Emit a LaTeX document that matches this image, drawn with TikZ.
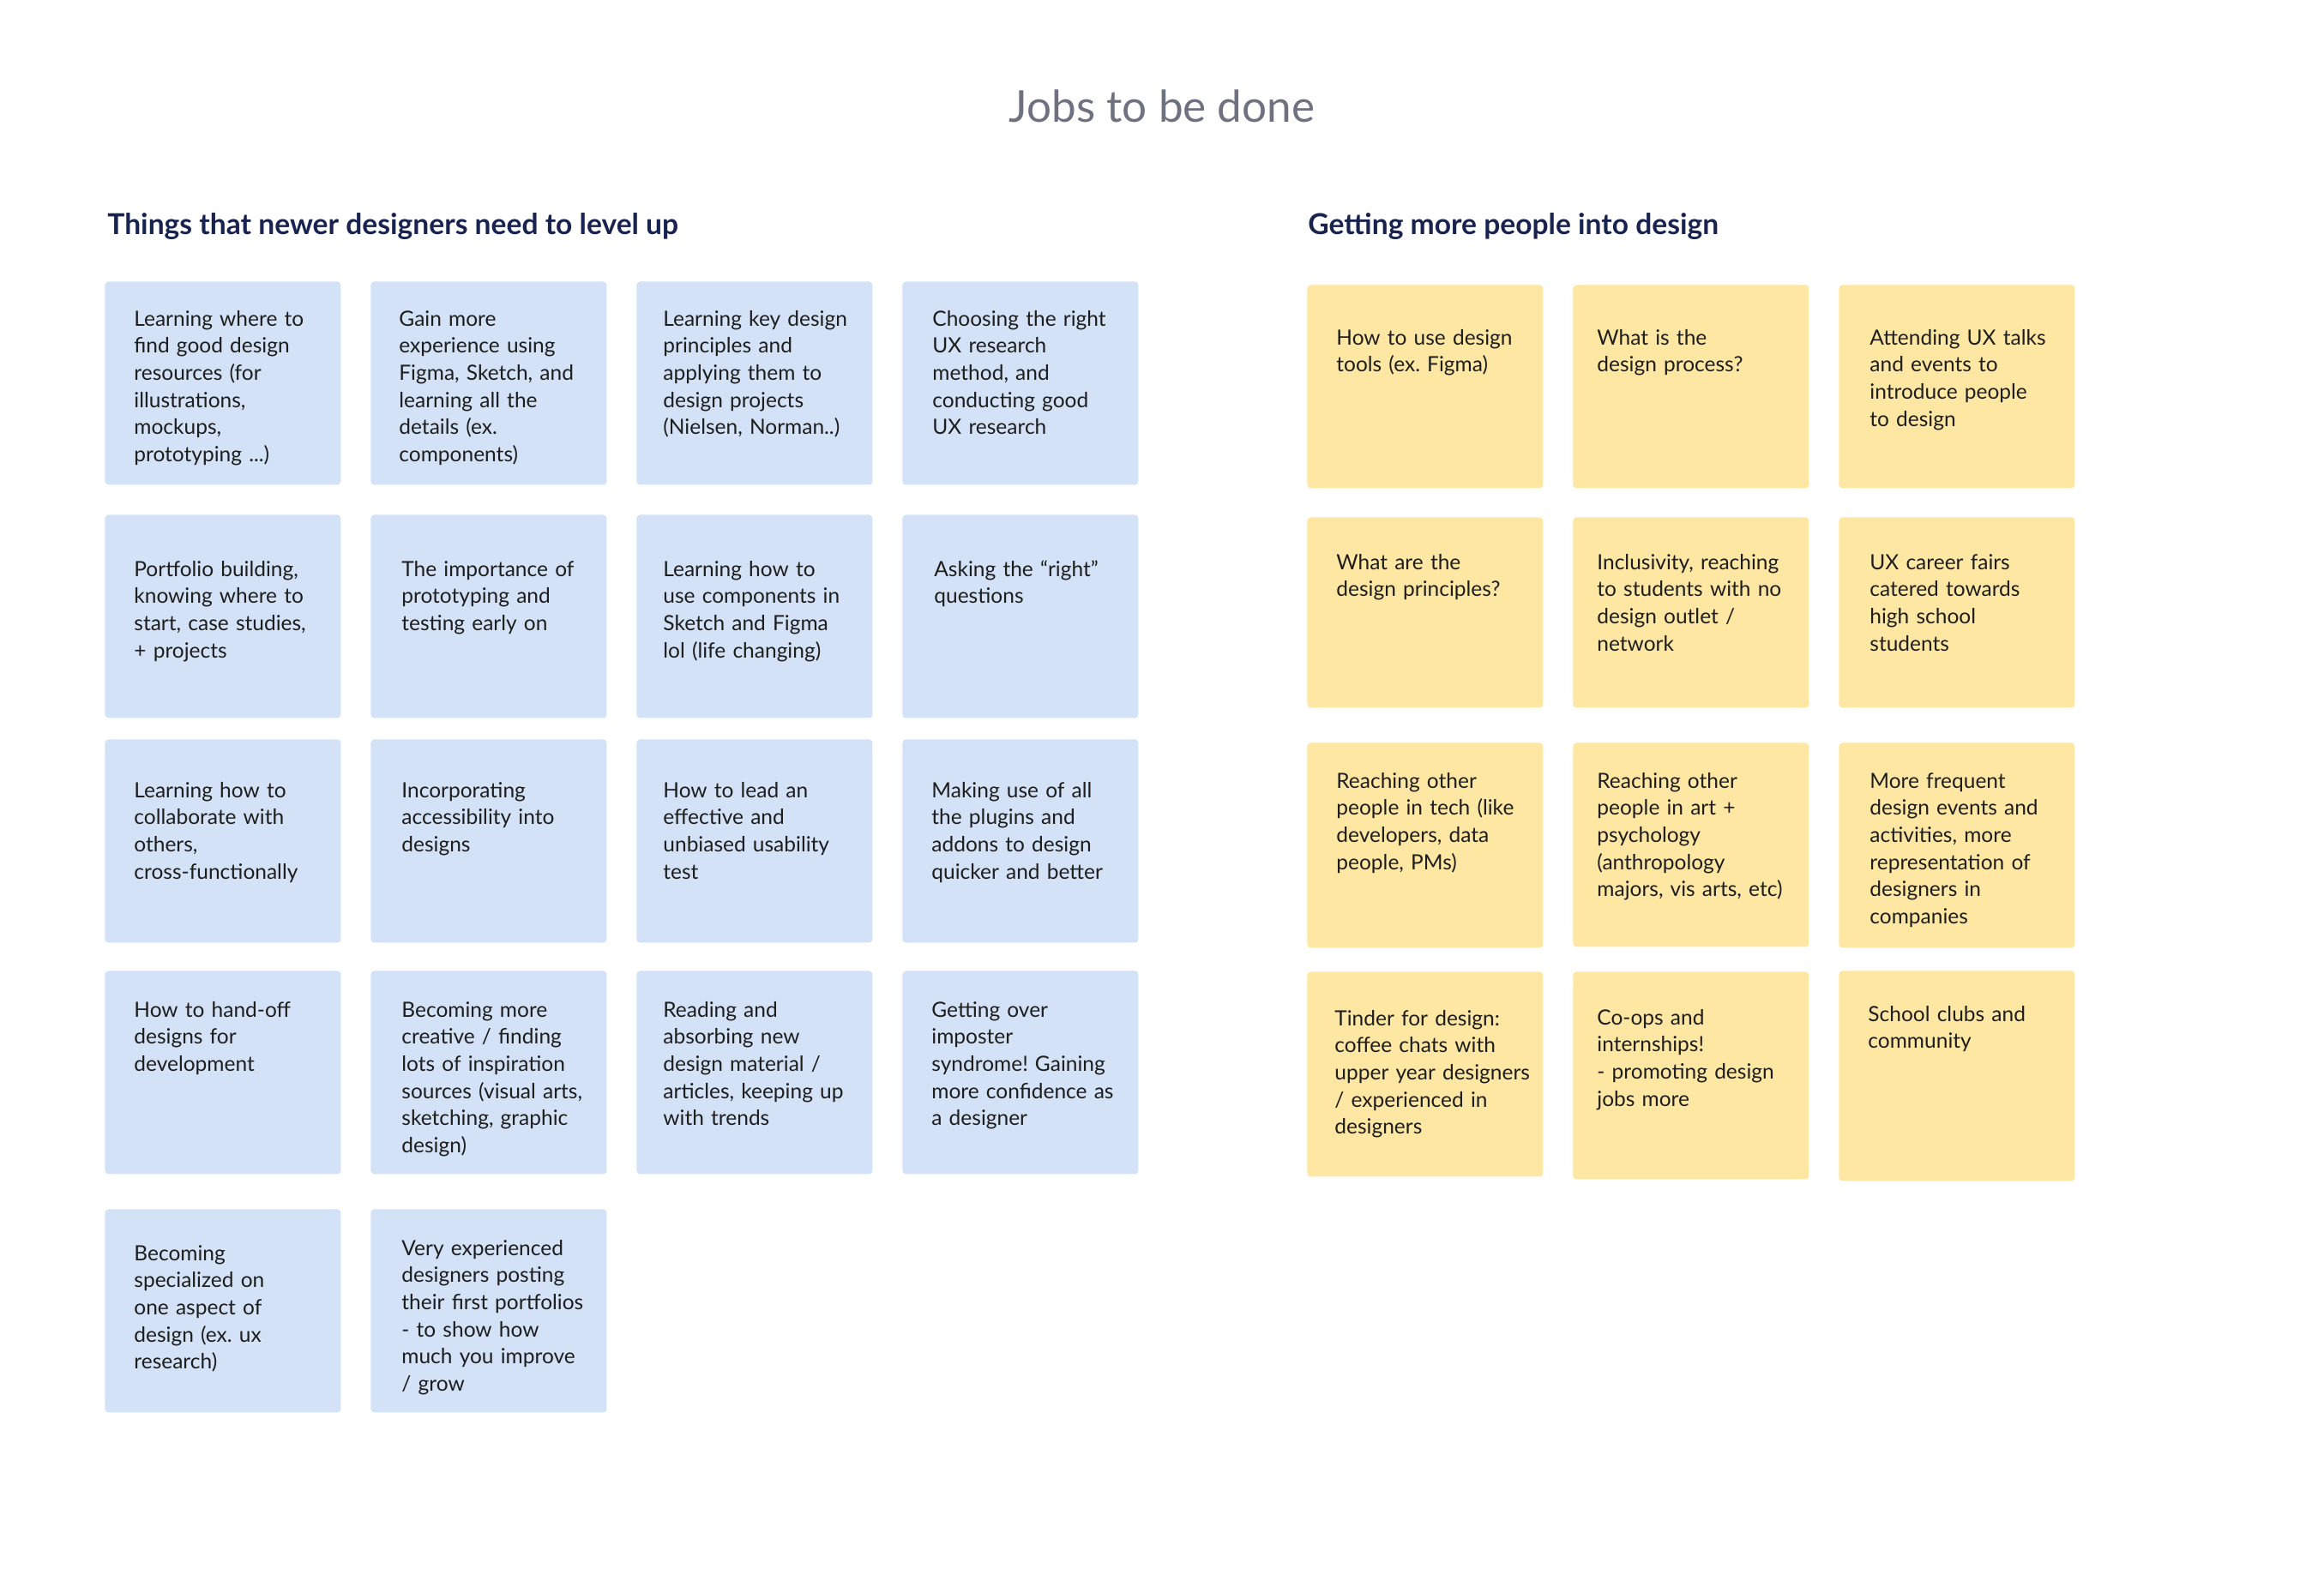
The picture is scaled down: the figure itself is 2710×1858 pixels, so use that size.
\documentclass[tikz,border=0pt]{standalone}
\usepackage{fontspec}
\setmainfont{Lato}
\usetikzlibrary{positioning}
\definecolor{cardblue}{RGB}{211,226,246}
\definecolor{cardyellow}{RGB}{254,231,163}
\definecolor{headink}{RGB}{25,35,80}
\definecolor{titleink}{RGB}{110,113,128}
\definecolor{cardink}{RGB}{30,30,30}
\frenchspacing
\tikzset{
	card/.style={rectangle, rounded corners=2pt, anchor=north west, inner sep=0pt, minimum width=137.5pt, minimum height=118.5pt},
	bluecard/.style={card, fill=cardblue},
	yellowcard/.style={card, fill=cardyellow},
	cardtext/.style={anchor=base west, align=left, text width=130pt, inner sep=0pt, text=cardink, font=\fontsize{12.25pt}{15.85pt}\selectfont},
	heading/.style={anchor=base west, inner sep=0pt, text=headink, font=\fontsize{16.8pt}{20pt}\selectfont\bfseries},
	maintitle/.style={anchor=base, inner sep=0pt, text=titleink, font=\fontsize{25.6pt}{30pt}\selectfont}
}
\begin{document}
\begin{tikzpicture}[x=0.5pt, y=-0.5pt]
	\useasboundingbox (0,0) rectangle (2710,1858);
	\node[maintitle] (title) at (1355,142) {Jobs to be done};
	\node[heading] (levelup) at (125,273) {Things that newer designers need to level up};
	\node[heading] (moredesign) at (1525,273) {Getting more people into design};

	\node[bluecard] (l11) at (122,328) {};
	\node[bluecard] (l12) at (432,328) {};
	\node[bluecard] (l13) at (742,328) {};
	\node[bluecard] (l14) at (1052,328) {};
	\node[bluecard] (l21) at (122,600) {};
	\node[bluecard] (l22) at (432,600) {};
	\node[bluecard] (l23) at (742,600) {};
	\node[bluecard] (l24) at (1052,600) {};
	\node[bluecard] (l31) at (122,862) {};
	\node[bluecard] (l32) at (432,862) {};
	\node[bluecard] (l33) at (742,862) {};
	\node[bluecard] (l34) at (1052,862) {};
	\node[bluecard] (l41) at (122,1132) {};
	\node[bluecard] (l42) at (432,1132) {};
	\node[bluecard] (l43) at (742,1132) {};
	\node[bluecard] (l44) at (1052,1132) {};
	\node[bluecard] (l51) at (122,1410) {};
	\node[bluecard] (l52) at (432,1410) {};

	\node[cardtext] (l11t) at ([shift={(34,52)}]l11.north west) {Learning where to\\find good design\\resources (for\\illustrations,\\mockups,\\prototyping ...)};
	\node[cardtext] (l12t) at ([shift={(33,52)}]l12.north west) {Gain more\\experience using\\Figma, Sketch, and\\learning all the\\details (ex.\\components)};
	\node[cardtext] (l13t) at ([shift={(31,52)}]l13.north west) {Learning key design\\principles and\\applying them to\\design projects\\(Nielsen, Norman..)};
	\node[cardtext] (l14t) at ([shift={(35,52)}]l14.north west) {Choosing the right\\UX research\\method, and\\conducting good\\UX research};
	\node[cardtext] (l21t) at ([shift={(34,72)}]l21.north west) {Portfolio building,\\knowing where to\\start, case studies,\\+ projects};
	\node[cardtext] (l22t) at ([shift={(36,72)}]l22.north west) {The importance of\\prototyping and\\testing early on};
	\node[cardtext] (l23t) at ([shift={(31,72)}]l23.north west) {Learning how to\\use components in\\Sketch and Figma\\lol (life changing)};
	\node[cardtext] (l24t) at ([shift={(37,72)}]l24.north west) {Asking the “right”\\questions};
	\node[cardtext] (l31t) at ([shift={(34,68)}]l31.north west) {Learning how to\\collaborate with\\others,\\cross-functionally};
	\node[cardtext] (l32t) at ([shift={(36,68)}]l32.north west) {Incorporating\\accessibility into\\designs};
	\node[cardtext] (l33t) at ([shift={(31,68)}]l33.north west) {How to lead an\\effective and\\unbiased usability\\test};
	\node[cardtext] (l34t) at ([shift={(34,68)}]l34.north west) {Making use of all\\the plugins and\\addons to design\\quicker and better};
	\node[cardtext] (l41t) at ([shift={(34,54)}]l41.north west) {How to hand-off\\designs for\\development};
	\node[cardtext] (l42t) at ([shift={(36,54)}]l42.north west) {Becoming more\\creative / finding\\lots of inspiration\\sources (visual arts,\\sketching, graphic\\design)};
	\node[cardtext] (l43t) at ([shift={(31,54)}]l43.north west) {Reading and\\absorbing new\\design material /\\articles, keeping up\\with trends};
	\node[cardtext] (l44t) at ([shift={(34,54)}]l44.north west) {Getting over\\imposter\\syndrome! Gaining\\more confidence as\\a designer};
	\node[cardtext] (l51t) at ([shift={(34,60)}]l51.north west) {Becoming\\specialized on\\one aspect of\\design (ex. ux\\research)};
	\node[cardtext] (l52t) at ([shift={(36,54)}]l52.north west) {Very experienced\\designers posting\\their first portfolios\\- to show how\\much you improve\\/ grow};

	\node[yellowcard] (r11) at (1524,332) {};
	\node[yellowcard] (r12) at (1834,332) {};
	\node[yellowcard] (r13) at (2144,332) {};
	\node[yellowcard, minimum height=111pt] (r21) at (1524,603) {};
	\node[yellowcard, minimum height=111pt] (r22) at (1834,603) {};
	\node[yellowcard, minimum height=111pt] (r23) at (2144,603) {};
	\node[yellowcard, minimum height=119.5pt] (r31) at (1524,866) {};
	\node[yellowcard, minimum height=119pt] (r32) at (1834,866) {};
	\node[yellowcard, minimum height=119.5pt] (r33) at (2144,866) {};
	\node[yellowcard, minimum height=119.5pt] (r41) at (1524,1133) {};
	\node[yellowcard, minimum height=121pt] (r42) at (1834,1133) {};
	\node[yellowcard, minimum height=122.5pt] (r43) at (2144,1132) {};

	\node[cardtext] (r11t) at ([shift={(34,70)}]r11.north west) {How to use design\\tools (ex. Figma)};
	\node[cardtext] (r12t) at ([shift={(28,70)}]r12.north west) {What is the\\design process?};
	\node[cardtext] (r13t) at ([shift={(36,70)}]r13.north west) {Attending UX talks\\and events to\\introduce people\\to design};
	\node[cardtext] (r21t) at ([shift={(34,61)}]r21.north west) {What are the\\design principles?};
	\node[cardtext] (r22t) at ([shift={(28,61)}]r22.north west) {Inclusivity, reaching\\to students with no\\design outlet /\\network};
	\node[cardtext] (r23t) at ([shift={(36,61)}]r23.north west) {UX career fairs\\catered towards\\high school\\students};
	\node[cardtext] (r31t) at ([shift={(34,53)}]r31.north west) {Reaching other\\people in tech (like\\developers, data\\people, PMs)};
	\node[cardtext] (r32t) at ([shift={(28,53)}]r32.north west) {Reaching other\\people in art +\\psychology\\(anthropology\\majors, vis arts, etc)};
	\node[cardtext] (r33t) at ([shift={(36,53)}]r33.north west) {More frequent\\design events and\\activities, more\\representation of\\designers in\\companies};
	\node[cardtext] (r41t) at ([shift={(32,63)}]r41.north west) {Tinder for design:\\coffee chats with\\upper year designers\\/ experienced in\\designers};
	\node[cardtext] (r42t) at ([shift={(28,62)}]r42.north west) {Co-ops and\\internships!\\- promoting design\\jobs more};
	\node[cardtext] (r43t) at ([shift={(34,59)}]r43.north west) {School clubs and\\community};
\end{tikzpicture}
\end{document}
